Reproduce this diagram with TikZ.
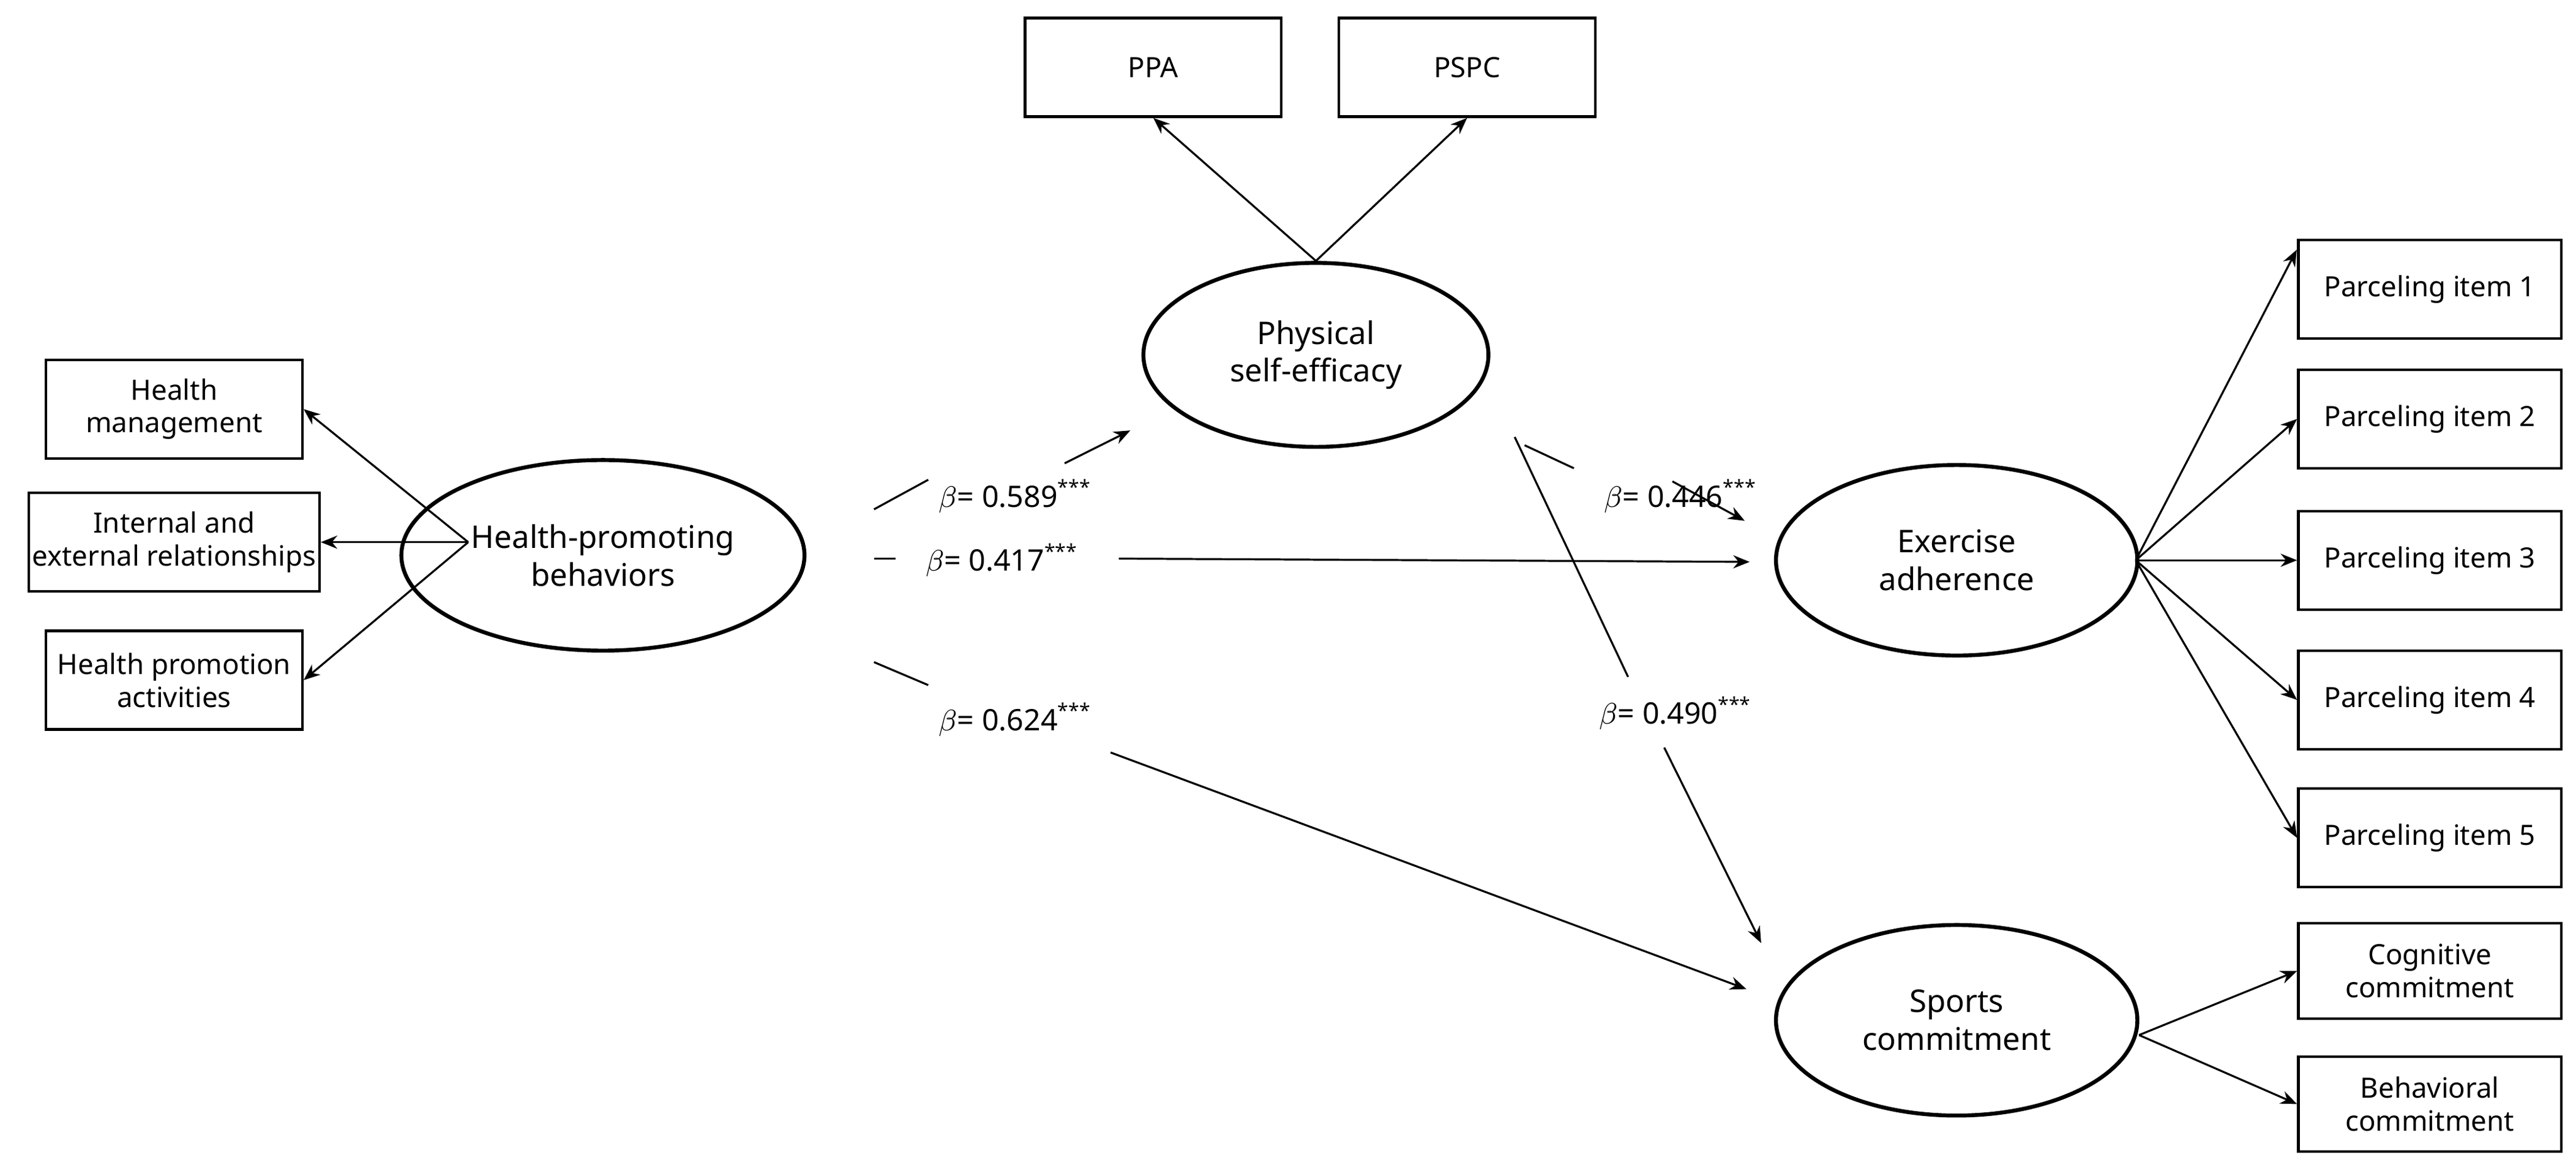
\documentclass[tikz,border=0pt]{standalone}
\usepackage{fontspec}
\setmainfont{Noto Sans}
\usetikzlibrary{arrows.meta,shapes.geometric}
\begin{document}
\begin{tikzpicture}[x=0.5pt,y=-0.5pt,
  box/.style={draw,thick,minimum width=78pt,minimum height=30pt,align=center,font=\fontsize{8.5}{10}\selectfont,inner sep=1pt},
  lat/.style={draw,very thick,ellipse,align=center,font=\bfseries\fontsize{9.5}{11.5}\selectfont},
  arr/.style={-{Stealth[length=5pt,width=4pt]},semithick},
  ln/.style={semithick},
  lab/.style={font=\fontsize{9}{11}\selectfont}]
\useasboundingbox (0,0) rectangle (1568,709);
% boxes
\node[box] (ppa) at (702,41) {PPA};
\node[box] (pspc) at (893,41) {PSPC};
\node[box] (hm) at (106,249) {Health\\management};
\node[box] (ie) at (106,330) {Internal and\\external relationships};
\node[box] (hp) at (106,414) {Health promotion\\activities};
\foreach \i/\y in {1/176,2/255,3/341,4/426,5/510}
  \node[box,minimum width=80pt] (p\i) at (1479,\y) {Parceling item \i};
\node[box,minimum width=80pt,minimum height=29pt] (cc) at (1479,591) {Cognitive\\commitment};
\node[box,minimum width=80pt,minimum height=29pt] (bc) at (1479,672) {Behavioral\\commitment};
% latent
\node[lat,minimum width=105pt,minimum height=56pt] (pse) at (801,216) {Physical\\self-efficacy};
\node[lat,minimum width=80pt,minimum height=58pt] (hpb) at (367,338) {Health-promoting\\behaviors};
\node[lat,minimum width=110pt,minimum height=58pt] (ea) at (1191,341) {Exercise\\adherence};
\node[lat,minimum width=110pt,minimum height=58pt] (sc) at (1191,621) {Sports\\commitment};
% indicators
\draw[arr] (pse.north) -- (ppa.south);
\draw[arr] (pse.north) -- (pspc.south);
\coordinate (hl) at (285,330);
\draw[arr] (hl) -- (hm.east);
\draw[arr] (hl) -- (ie.east);
\draw[arr] (hl) -- (hp.east);
\coordinate (er) at (1300,341);
\draw[arr] (er) -- (1398,152);
\foreach \i in {2,3,4,5} \draw[arr] (er) -- (p\i.west);
\coordinate (sr) at (1302,630);
\draw[arr] (sr) -- (cc.west);
\draw[arr] (sr) -- (bc.west);
% structural paths
\coordinate (a1) at (532,310); \coordinate (a2) at (565,292);
\coordinate (a3) at (648,282); \coordinate (a4) at (688,262);
\draw[ln] (a1) -- (a2); \draw[arr] (a3) -- (a4);
\node[lab] at (618,302) {$\beta$= 0.589\textsuperscript{***}};
\coordinate (b1) at (532,340); \coordinate (b2) at (545,340);
\coordinate (b3) at (681,340); \coordinate (b4) at (1065,342);
\draw[ln] (b1) -- (b2); \draw[arr] (b3) -- (b4);
\node[lab] at (610,341) {$\beta$= 0.417\textsuperscript{***}};
\coordinate (c1) at (532,403); \coordinate (c2) at (565,417);
\coordinate (c3) at (676,458); \coordinate (c4) at (1063,602);
\draw[ln] (c1) -- (c2); \draw[arr] (c3) -- (c4);
\node[lab] at (618,438) {$\beta$= 0.624\textsuperscript{***}};
\coordinate (d1) at (928,271); \coordinate (d2) at (958,285);
\coordinate (d3) at (1018,293); \coordinate (d4) at (1062,317);
\draw[ln] (d1) -- (d2); \draw[arr] (d3) -- (d4);
\node[lab] at (1023,302) {$\beta$= 0.446\textsuperscript{***}};
\coordinate (e1) at (922,266); \coordinate (e2) at (991,412);
\coordinate (e3) at (1013,455); \coordinate (e4) at (1072,574);
\draw[ln] (e1) -- (e2); \draw[arr] (e3) -- (e4);
\node[lab] at (1020,434) {$\beta$= 0.490\textsuperscript{***}};
\end{tikzpicture}
\end{document}
